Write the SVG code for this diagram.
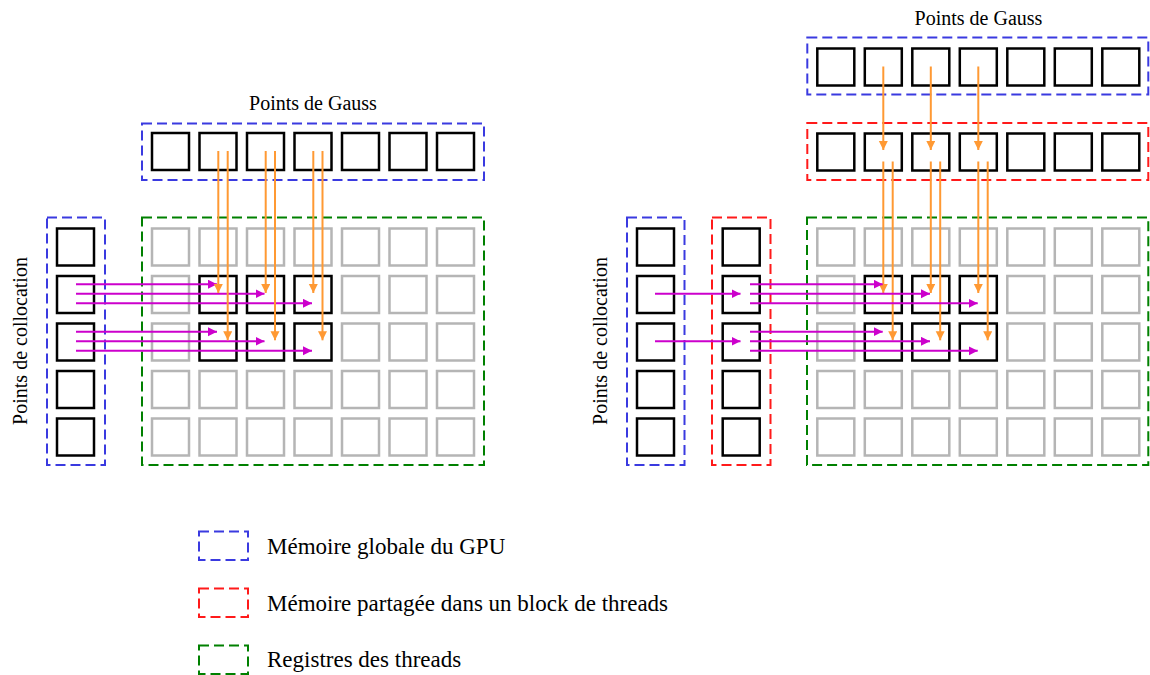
<svg xmlns="http://www.w3.org/2000/svg" width="1150" height="675" viewBox="0 0 1150 675">
<style>
.sq{fill:none;stroke:#000;stroke-width:2.5}
.gs{fill:none;stroke:#b5b5b5;stroke-width:2.5}
.db{fill:none;stroke:#3a3ae0;stroke-width:2;stroke-dasharray:10,5}
.dr{fill:none;stroke:#ff1a1a;stroke-width:2;stroke-dasharray:10,5}
.dg{fill:none;stroke:#008000;stroke-width:2;stroke-dasharray:10,5}
.pa{stroke:#cc00cc;stroke-width:2;fill:none;marker-end:url(#mp)}
.oa{stroke:#ff9933;stroke-width:2;fill:none;marker-end:url(#mo)}
</style>
<defs>
<marker id="mp" markerUnits="userSpaceOnUse" markerWidth="10" markerHeight="10" refX="9" refY="4.5" orient="auto"><path d="M0,0 L9,4.5 L0,9 z" fill="#cc00cc"/></marker>
<marker id="mo" markerUnits="userSpaceOnUse" markerWidth="10" markerHeight="10" refX="9" refY="4.5" orient="auto"><path d="M0,0 L9,4.5 L0,9 z" fill="#ff9933"/></marker>
<rect id="b" class="sq" width="37" height="37"/>
<rect id="g" class="gs" width="37" height="37"/>
<g id="brow"><use href="#b"/><use href="#b" x="47.5"/><use href="#b" x="95"/><use href="#b" x="142.5"/><use href="#b" x="190"/><use href="#b" x="237.5"/><use href="#b" x="285"/></g>
<g id="grow"><use href="#g"/><use href="#g" x="47.5"/><use href="#g" x="95"/><use href="#g" x="142.5"/><use href="#g" x="190"/><use href="#g" x="237.5"/><use href="#g" x="285"/></g>
<g id="hrow"><use href="#g"/><use href="#b" x="47.5"/><use href="#b" x="95"/><use href="#b" x="142.5"/><use href="#g" x="190"/><use href="#g" x="237.5"/><use href="#g" x="285"/></g>
<g id="bcol"><use href="#b"/><use href="#b" y="47.5"/><use href="#b" y="95"/><use href="#b" y="142.5"/><use href="#b" y="190"/></g>
<g id="grid"><use href="#grow"/><use href="#hrow" y="47.5"/><use href="#hrow" y="95"/><use href="#grow" y="142.5"/><use href="#grow" y="190"/></g>
</defs>
<rect width="1150" height="675" fill="#fff"/>
<g id="left-gauss-global">
<text x="313" y="110" font-size="20" font-family="'Liberation Serif'" text-anchor="middle">Points de Gauss</text>
<rect class="db" x="142" y="123.5" width="342" height="56.5"/>
<use href="#brow" x="152" y="133"/>
</g>
<g id="left-colloc-global">
<text font-size="20" font-family="'Liberation Serif'" transform="translate(26.5,341) rotate(-90)" text-anchor="middle">Points de collocation</text>
<rect class="db" x="47" y="217.5" width="58" height="247.5"/>
<use href="#bcol" x="57" y="228.5"/>
</g>
<g id="left-registers">
<rect class="dg" x="142" y="217.5" width="342" height="247.5"/>
<use href="#grid" x="152" y="228.5"/>
</g>
<g id="right-gauss-global">
<text x="978.5" y="25" font-size="20" font-family="'Liberation Serif'" text-anchor="middle">Points de Gauss</text>
<rect class="db" x="807.3" y="37.5" width="341" height="57"/>
<use href="#brow" x="817.3" y="48.5"/>
</g>
<g id="right-gauss-shared">
<rect class="dr" x="807.3" y="123" width="341" height="57"/>
<use href="#brow" x="817.3" y="133.5"/>
</g>
<g id="right-colloc-global">
<text font-size="20" font-family="'Liberation Serif'" transform="translate(606.5,341) rotate(-90)" text-anchor="middle">Points de collocation</text>
<rect class="db" x="627" y="217.5" width="57.5" height="247.5"/>
<use href="#bcol" x="637" y="228.5"/>
</g>
<g id="right-colloc-shared">
<rect class="dr" x="712" y="217.5" width="58.5" height="247.5"/>
<use href="#bcol" x="722.7" y="228.5"/>
</g>
<g id="right-registers">
<rect class="dg" x="807" y="217.5" width="341.3" height="247.5"/>
<use href="#grid" x="817.3" y="228.5"/>
</g>
<g id="connectors">
<line class="pa" x1="76" y1="284.2" x2="217" y2="284.2"/>
<line class="pa" x1="76" y1="293.8" x2="264.5" y2="293.8"/>
<line class="pa" x1="76" y1="303.3" x2="312" y2="303.3"/>
<line class="pa" x1="76" y1="331.7" x2="217" y2="331.7"/>
<line class="pa" x1="76" y1="341.3" x2="264.5" y2="341.3"/>
<line class="pa" x1="76" y1="350.8" x2="312" y2="350.8"/>
<line class="oa" x1="218.3" y1="151" x2="218.3" y2="293"/>
<line class="oa" x1="227.7" y1="151" x2="227.7" y2="340.3"/>
<line class="oa" x1="265.7" y1="151" x2="265.7" y2="293"/>
<line class="oa" x1="275" y1="151" x2="275" y2="340.3"/>
<line class="oa" x1="313.3" y1="151" x2="313.3" y2="293"/>
<line class="oa" x1="322.5" y1="151" x2="322.5" y2="340.3"/>
<line class="oa" x1="883.3" y1="66.5" x2="883.3" y2="150"/>
<line class="oa" x1="930.8" y1="66.5" x2="930.8" y2="150"/>
<line class="oa" x1="978.3" y1="66.5" x2="978.3" y2="150"/>
<line class="oa" x1="883.3" y1="161.5" x2="883.3" y2="293"/>
<line class="oa" x1="892.7" y1="161.5" x2="892.7" y2="340.3"/>
<line class="oa" x1="930.8" y1="161.5" x2="930.8" y2="293"/>
<line class="oa" x1="940.2" y1="161.5" x2="940.2" y2="340.3"/>
<line class="oa" x1="978.3" y1="161.5" x2="978.3" y2="293"/>
<line class="oa" x1="987.7" y1="161.5" x2="987.7" y2="340.3"/>
<line class="pa" x1="655" y1="293.8" x2="740.5" y2="293.8"/>
<line class="pa" x1="655" y1="341.3" x2="740.5" y2="341.3"/>
<line class="pa" x1="750" y1="284.2" x2="882.7" y2="284.2"/>
<line class="pa" x1="750" y1="293.8" x2="930" y2="293.8"/>
<line class="pa" x1="750" y1="303.3" x2="977.7" y2="303.3"/>
<line class="pa" x1="750" y1="331.7" x2="882.7" y2="331.7"/>
<line class="pa" x1="750" y1="341.3" x2="930" y2="341.3"/>
<line class="pa" x1="750" y1="350.8" x2="977.7" y2="350.8"/>
</g>
<g id="legend">
<rect class="db" x="199" y="531.5" width="49" height="28.5"/>
<text x="267" y="553.5" font-size="23" font-family="'Liberation Serif'">Mémoire globale du GPU</text>
<rect class="dr" x="199" y="588.5" width="49" height="28.5"/>
<text x="267" y="610.8" font-size="23" font-family="'Liberation Serif'">Mémoire partagée dans un block de threads</text>
<rect class="dg" x="199" y="645.5" width="49" height="28.5"/>
<text x="267" y="666.8" font-size="23" font-family="'Liberation Serif'">Registres des threads</text>
</g>
</svg>
